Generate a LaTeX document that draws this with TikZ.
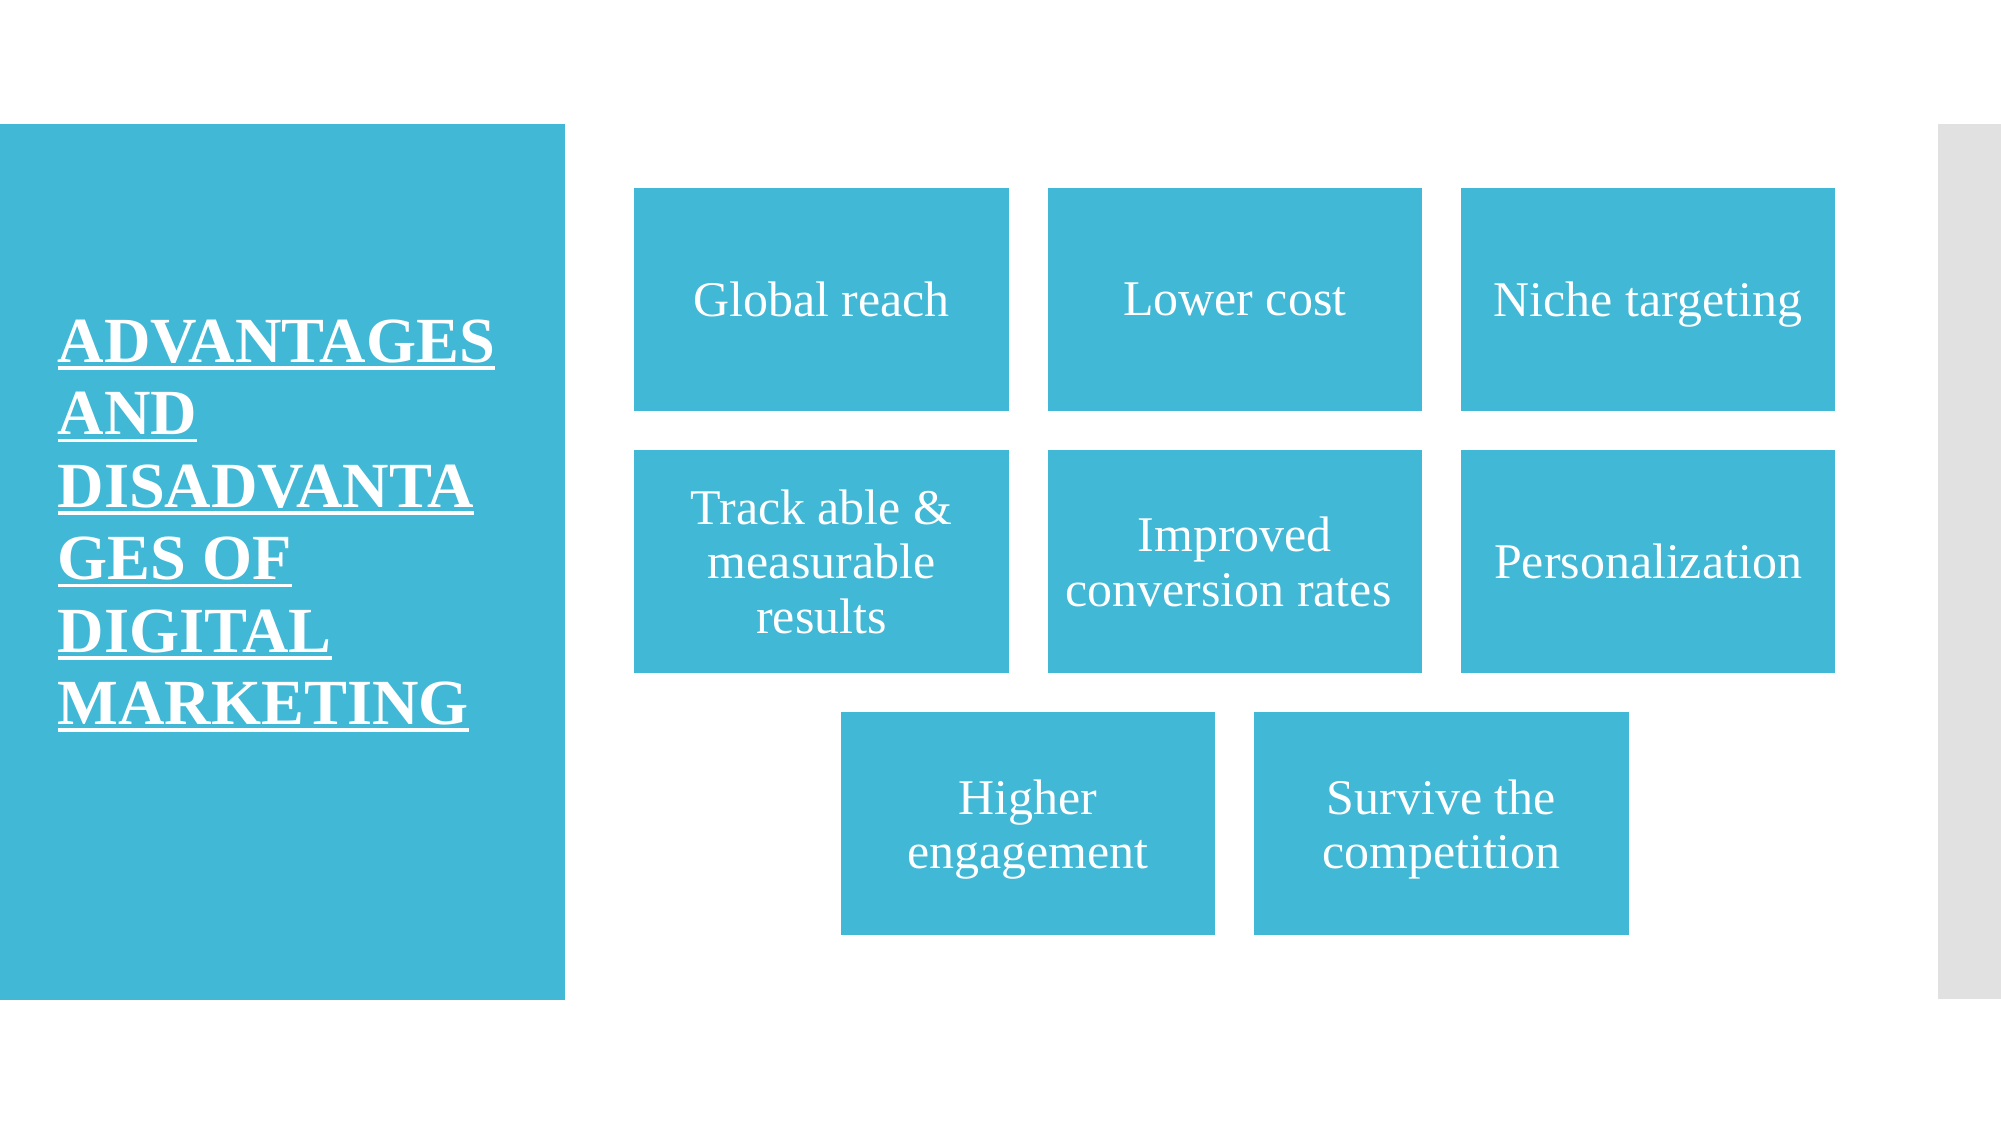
\documentclass[tikz,border=0pt]{standalone}
\usepackage{fontspec}
\setmainfont{Liberation Serif}
\usetikzlibrary{positioning}
\definecolor{tealbox}{RGB}{65,184,213}
\definecolor{sidegray}{RGB}{225,225,225}
\newcommand{\titleul}[1]{\setbox0\hbox{#1}\rlap{\rule[-2.2pt]{\wd0}{1.1pt}}\box0}
\tikzset{box/.style={fill=tealbox,text=white,align=center,minimum width=3.74cm,minimum height=2.23cm,inner sep=0pt,outer sep=0pt,text depth=0pt,font=\fontsize{14.2}{15.4}\selectfont},heading/.style={text=white,align=left,inner sep=0pt,font=\bfseries\fontsize{18.3}{20.6}\selectfont}}

\begin{document}
\begin{tikzpicture}[x=0.01cm,y=-0.01cm,node distance=3.9mm and 3.9mm]
\useasboundingbox (0,0) rectangle (2001,1125);
\node[fill=tealbox,minimum width=5.65cm,minimum height=8.75cm,inner sep=0pt,outer sep=0pt,anchor=north west] (panel) at (0,124) {};
\fill[sidegray] (1938,124) rectangle (2001,999);
\node[heading,anchor=north west] (title) at (57,319) {\titleul{ADVANTAGES}\\\titleul{AND}\\\titleul{DISADVANTA}\\\titleul{GES OF}\\\titleul{DIGITAL}\\\titleul{MARKETING}};
\node[box] (reach) at (821.5,299.5) {Global reach};
\node[box,right=of reach] (cost) {Lower cost};
\node[box,right=of cost] (niche) {Niche targeting};
\node[box,below=of reach] (track) {Track able \&\\measurable\\results};
\node[box,right=of track] (conv) {Improved\\conversion rates\hspace*{0.25em}};
\node[box,right=of conv] (person) {Personalization};
\node[box,anchor=north] (engage) at ([xshift=1.95mm,yshift=-3.9mm]track.south east) {Higher\\engagement};
\node[box,right=of engage] (survive) {Survive the\\competition};
\end{tikzpicture}
\end{document}
